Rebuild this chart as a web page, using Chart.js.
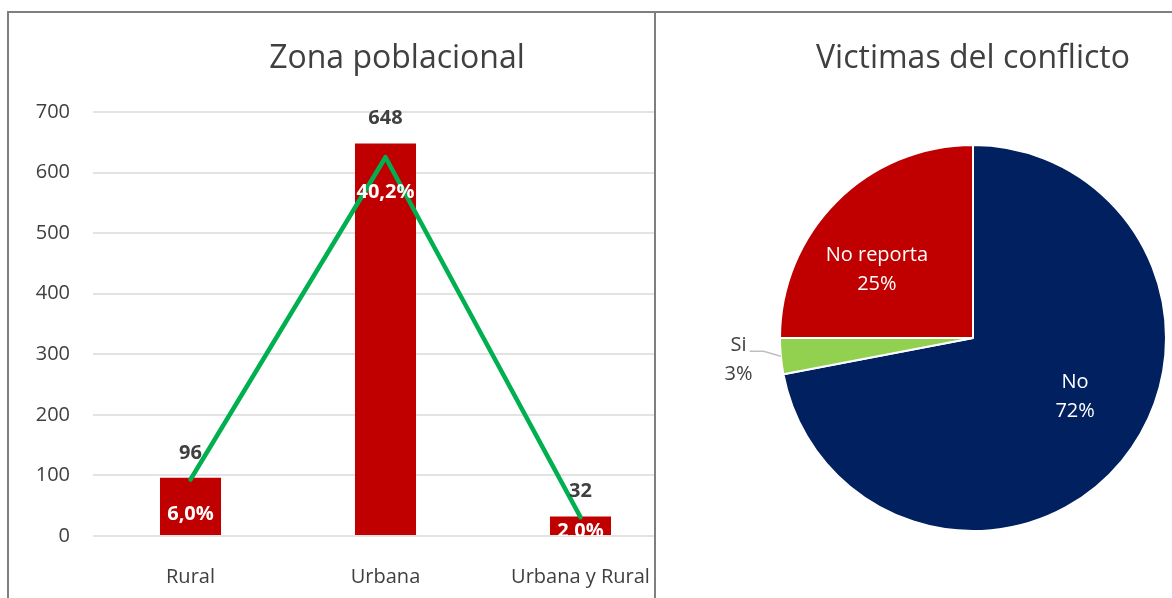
<!DOCTYPE html>
<html>
<head>
<meta charset="utf-8">
<script src="https://cdn.jsdelivr.net/npm/chart.js@4.4.1/dist/chart.umd.min.js"></script>
<style>
  body { margin: 0; background: #fff; width: 1172px; height: 598px; overflow: hidden; position: relative; }
  .panel { position: absolute; top: 11px; height: 600px; border-left: 2px solid #7f7f7f; border-top: 2px solid #7f7f7f; overflow: hidden; background: #fff; }
  #left { left: 7px; width: 645px; }
  #right { left: 654px; width: 520px; }
  .box { position: relative; height: 585px; }
</style>
</head>
<body>
<div class="panel" id="left"><div class="box" style="width:776px"><canvas id="zona"></canvas></div></div>
<div class="panel" id="right"><div class="box" style="width:634px"><canvas id="victimas"></canvas></div></div>
<script>
// datos
const zonas = ['Rural', 'Urbana', 'Urbana y Rural'];
const personas = [96, 648, 32];
const porcentajes = [6.0, 40.2, 2.0];
const victimasLabels = ['No', 'Si', 'No reporta'];
const victimasValores = [72, 3, 25];

const fuente = '"Open Sans", sans-serif';
const gris = '#404040';

// etiquetas de barras y de la linea
const etiquetasBarras = {
  id: 'etiquetasBarras',
  afterDatasetsDraw(chart) {
    const { ctx, chartArea } = chart;
    const barras = chart.getDatasetMeta(0).data;
    const linea = chart.getDatasetMeta(1).data;
    ctx.save();
    ctx.textAlign = 'center';
    ctx.textBaseline = 'middle';
    ctx.font = 'bold 20px ' + fuente;
    ctx.fillStyle = gris;
    barras.forEach((b, i) => ctx.fillText(personas[i], b.x, b.y - 25));
    // los porcentajes quedan recortados al area del grafico
    ctx.beginPath();
    ctx.rect(chartArea.left, chartArea.top, chartArea.width, chartArea.height);
    ctx.clip();
    ctx.fillStyle = '#fff';
    linea.forEach((p, i) => {
      const y = Math.min(p.y + 35, chartArea.bottom - 5);
      ctx.fillText(porcentajes[i].toFixed(1).replace('.', ',') + '%', p.x, y);
    });
    ctx.restore();
  }
};

new Chart(document.getElementById('zona'), {
  data: {
    labels: zonas,
    datasets: [{
      type: 'bar',
      data: personas,
      backgroundColor: '#C00000',
      categoryPercentage: 0.313,
      barPercentage: 1,
      order: 2
    }, {
      type: 'line',
      data: porcentajes,
      yAxisID: 'y1',
      borderColor: '#00B050',
      borderWidth: 4.5,
      borderCapStyle: 'round',
      borderJoinStyle: 'round',
      pointRadius: 0,
      tension: 0,
      order: 1
    }]
  },
  options: {
    responsive: true,
    maintainAspectRatio: false,
    animation: false,
    layout: { padding: 0 },
    scales: {
      x: {
        grid: { display: false },
        border: { display: false },
        ticks: { color: gris, font: { family: fuente, size: 20 }, padding: 21, maxRotation: 0, autoSkip: false },
        afterFit(scale) { scale.height = 62; }
      },
      y: {
        min: 0,
        max: 700,
        ticks: { stepSize: 100, color: gris, font: { family: fuente, size: 20 }, padding: 23 },
        grid: { color: '#e3e3e3', lineWidth: 2, drawTicks: false },
        border: { display: false },
        afterFit(scale) { scale.width = 84; }
      },
      // eje secundario invisible para la linea de porcentajes
      y1: {
        position: 'right',
        min: 0,
        max: 45,
        ticks: { display: false },
        grid: { display: false },
        border: { display: false },
        afterFit(scale) { scale.width = 107; }
      }
    },
    plugins: {
      legend: { display: false },
      tooltip: { enabled: false },
      title: {
        display: true,
        text: 'Zona poblacional',
        color: gris,
        font: { family: fuente, size: 32, weight: 'normal' },
        padding: { top: 27, bottom: 33.6 }
      }
    }
  },
  plugins: [etiquetasBarras]
});

// etiquetas de la torta
const etiquetasTorta = {
  id: 'etiquetasTorta',
  afterDatasetsDraw(chart) {
    const { ctx } = chart;
    const total = victimasValores.reduce((a, b) => a + b, 0);
    ctx.save();
    ctx.font = '20px ' + fuente;
    ctx.textAlign = 'center';
    ctx.textBaseline = 'middle';
    chart.getDatasetMeta(0).data.forEach((arc, i) => {
      const { x, y, startAngle, endAngle, outerRadius } = arc.getProps(['x', 'y', 'startAngle', 'endAngle', 'outerRadius'], true);
      const mid = (startAngle + endAngle) / 2;
      const parte = victimasValores[i] / total;
      const fuera = parte < 0.08;
      const r = outerRadius * (fuera ? 1.22 : 0.61);
      const ang = fuera ? mid : mid - 0.17;
      const lx = x + Math.cos(ang) * r;
      const ly = y + Math.sin(ang) * r;
      if (fuera) {
        ctx.strokeStyle = '#bfbfbf';
        ctx.lineWidth = 1.5;
        ctx.beginPath();
        ctx.moveTo(lx + 11, ly - 9);
        ctx.lineTo(lx + 25, ly - 9);
        ctx.lineTo(x + Math.cos(mid) * outerRadius, y + Math.sin(mid) * outerRadius);
        ctx.stroke();
        ctx.fillStyle = gris;
      } else {
        ctx.fillStyle = '#fff';
      }
      ctx.fillText(victimasLabels[i], lx, ly - 14.5);
      ctx.fillText(Math.round(parte * 100) + '%', lx, ly + 14.5);
    });
    ctx.restore();
  }
};

new Chart(document.getElementById('victimas'), {
  type: 'pie',
  data: {
    labels: victimasLabels,
    datasets: [{
      data: victimasValores,
      backgroundColor: ['#002060', '#92D050', '#C00000'],
      borderColor: '#fff',
      borderWidth: 2,
      hoverOffset: 0
    }]
  },
  options: {
    responsive: true,
    maintainAspectRatio: false,
    animation: false,
    layout: { padding: { left: 0, right: 0, top: 0, bottom: 66 } },
    plugins: {
      legend: { display: false },
      tooltip: { enabled: false },
      title: {
        display: true,
        text: 'Victimas del conflicto',
        color: gris,
        font: { family: fuente, size: 32, weight: 'normal' },
        padding: { top: 27, bottom: 65.6 }
      }
    }
  },
  plugins: [etiquetasTorta]
});
</script>
</body>
</html>
